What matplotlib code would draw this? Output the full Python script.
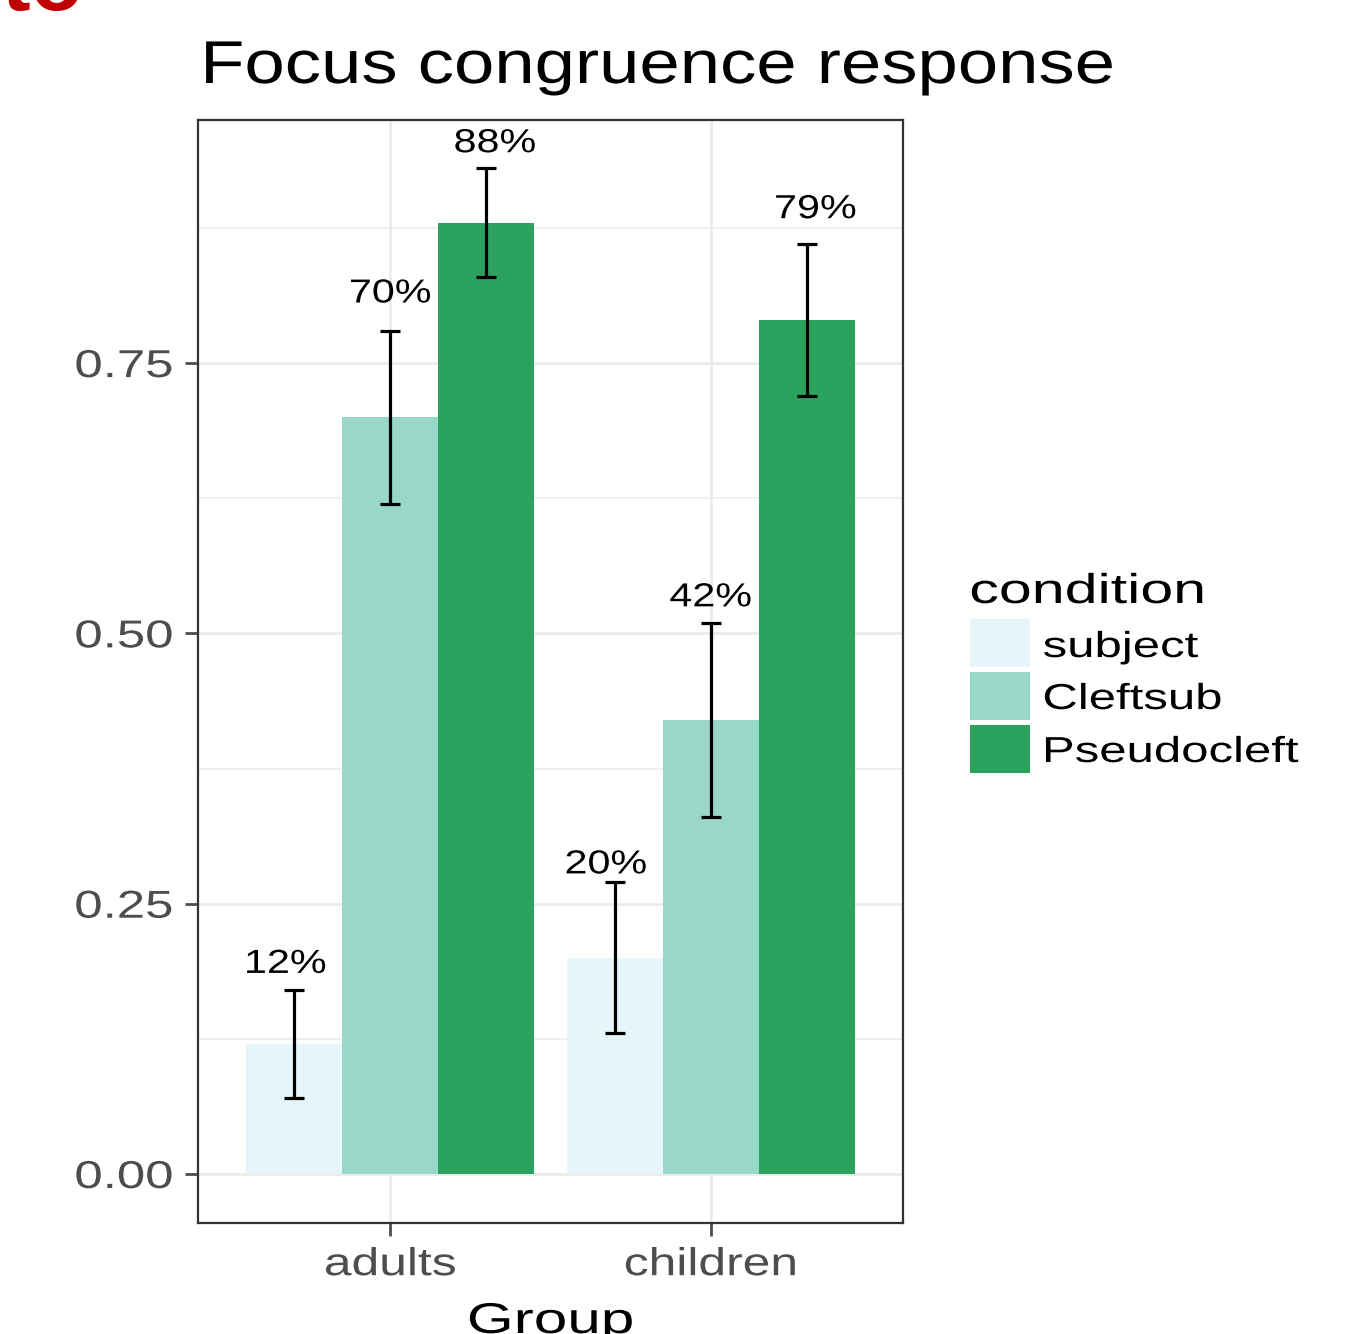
import matplotlib
matplotlib.use("Agg")
import matplotlib.pyplot as plt
from matplotlib.patches import Rectangle
from matplotlib.patheffects import AbstractPathEffect
from matplotlib.transforms import Affine2D
import numpy as np

plt.rcParams['font.family'] = ['Liberation Sans', 'DejaVu Sans']

groups = ["adults", "children"]
conditions = ["subject", "Cleftsub", "Pseudocleft"]
colors = ["#E5F5F9", "#99D8C9", "#2CA25F"]
# proportion of congruent responses, rows = condition, cols = group
means = [[0.12, 0.20],
         [0.70, 0.42],
         [0.88, 0.79]]
errors = [[0.05, 0.07],
          [0.08, 0.09],
          [0.05, 0.07]]
yticks = [0.00, 0.25, 0.50, 0.75]

W, H = 1361, 1334

# space between each error bar top and its percentage label (data units)
label_gap = [[0.016, 0.008],
             [0.026, 0.015],
             [0.015, 0.024]]


def fx(px):
    return px / W


def fy(py):
    return 1 - py / H


class HStretch(AbstractPathEffect):
    """Draw glyphs widened horizontally around a chosen anchor."""

    def __init__(self, sx, anchor="center"):
        super().__init__()
        self.sx = sx
        self.anchor = anchor

    def draw_path(self, renderer, gc, tpath, affine, rgbFace=None):
        ext = tpath.get_extents()
        if self.anchor == "left":
            cx = ext.x0
        elif self.anchor == "right":
            cx = ext.x1
        else:
            cx = 0.5 * (ext.x0 + ext.x1)
        t = Affine2D().translate(-cx, 0).scale(self.sx, 1).translate(cx, 0) + affine
        renderer.draw_path(gc, tpath, t, rgbFace)


fig = plt.figure(figsize=(W / 100, H / 100), dpi=100)
ax = fig.add_axes([fx(198), fy(1223), fx(903) - fx(198), fy(120) - fy(1223)])

x = np.arange(1, len(groups) + 1)
bar_w = 0.3
grid_c = "#EBEBEB"

# panel grid
for v in yticks:
    ax.axhline(v, color=grid_c, lw=2.0, zorder=0)
for v in [0.125, 0.375, 0.625, 0.875]:
    ax.axhline(v, color=grid_c, lw=1.1, zorder=0)
for v in x:
    ax.axvline(v, color=grid_c, lw=2.0, zorder=0)

for i, (cond, col) in enumerate(zip(conditions, colors)):
    pos = x + (i - 1) * bar_w
    ax.bar(pos, means[i], width=bar_w, color=col, label=cond, zorder=2)
    ax.errorbar(pos, means[i], yerr=errors[i], fmt="none", ecolor="black",
                elinewidth=2.3, capsize=7.5, capthick=2.3, zorder=3)
    for j in range(len(groups)):
        lx = x[j] + (i - 1) * 0.327
        ax.text(lx, means[i][j] + errors[i][j] + label_gap[i][j],
                f"{round(means[i][j]*100)}%",
                ha="center", va="baseline", fontsize=24, color="black", zorder=4,
                path_effects=[HStretch(1.24, "center")])

ax.set_xlim(0.4, 2.6)
ax.set_ylim(-0.0453, 0.9748)
ax.set_xticks(x)
ax.set_xticklabels(groups)
ax.set_yticks(yticks)
ax.set_yticklabels([f"{v:.2f}" for v in yticks])
ax.tick_params(axis="both", labelsize=28, colors="#4D4D4D", length=9.4, width=2.0)
ax.tick_params(axis="y", pad=8.6)
ax.tick_params(axis="x", pad=8)
for lab in ax.get_yticklabels():
    lab.set_path_effects([HStretch(1.31, "right")])
for lab in ax.get_xticklabels():
    lab.set_path_effects([HStretch(1.28, "center")])
for s in ax.spines.values():
    s.set_color("#333333")
    s.set_linewidth(1.6)

ax.set_xlabel("Group", fontsize=31, color="black")
ax.xaxis.label.set_va("baseline")
ax.xaxis.set_label_coords(0.5, (1223 - 1333) / (1223 - 120))
ax.xaxis.label.set_path_effects([HStretch(1.4, "center")])

fig.text(fx(657.5), fy(83), "Focus congruence response", ha="center", va="baseline",
         fontsize=43.5, color="black", path_effects=[HStretch(1.2, "center")])

# legend for condition
fig.text(fx(970), fy(603), "condition", ha="left", va="baseline", fontsize=30,
         color="black", path_effects=[HStretch(1.42, "left")])
key_tops = [619, 672, 725]
label_base = [657, 709, 762]
for cond, col, kt, lb in zip(conditions, colors, key_tops, label_base):
    fig.patches.append(Rectangle((fx(970), fy(kt + 48)), fx(1030) - fx(970),
                                 fy(kt) - fy(kt + 48), transform=fig.transFigure,
                                 facecolor=col, edgecolor="none"))
    fig.text(fx(1043), fy(lb), cond, ha="left", va="baseline", fontsize=26,
             color="black", path_effects=[HStretch(1.36, "left")])

# partial red heading at the very top edge
fig.text(fx(2), fy(10), "to", color="#C00000", fontsize=62,
         fontweight="bold", va="baseline", ha="left")

fig.savefig("out.png", dpi=100)
